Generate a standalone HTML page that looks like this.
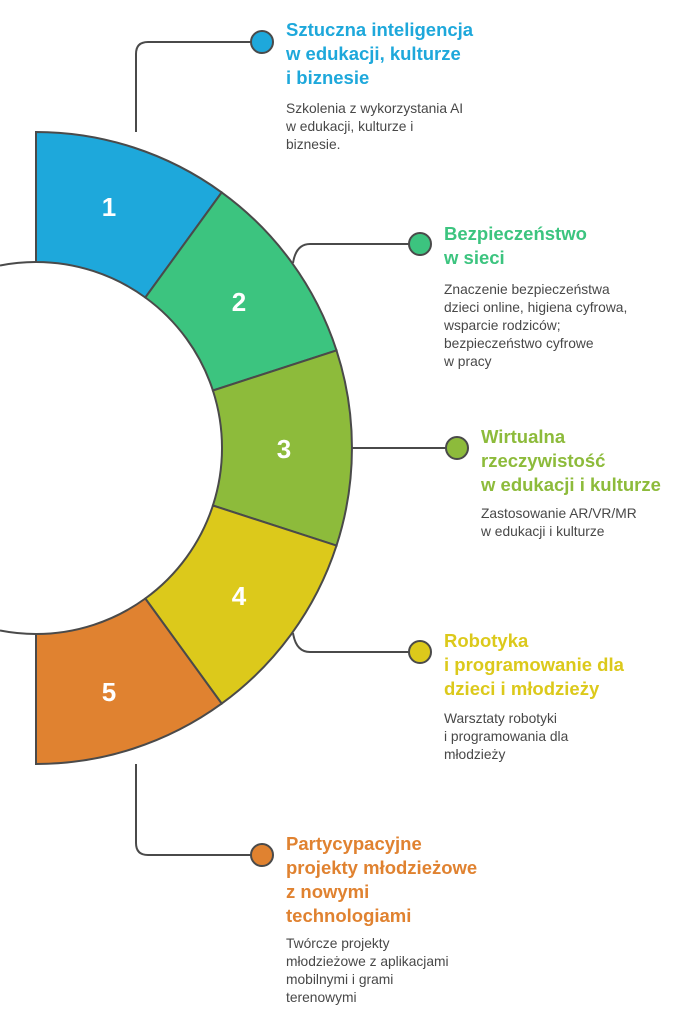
<!DOCTYPE html>
<html><head><meta charset="utf-8"><style>
body{margin:0;width:691px;height:1024px;background:#fff;position:relative;overflow:hidden;font-family:"Liberation Sans",sans-serif}
.t{position:absolute;font-weight:bold;font-size:18.5px;line-height:24px}
.d{position:absolute;font-size:13.8px;line-height:18px;color:#484848}
</style></head><body>
<svg width="691" height="1024" style="position:absolute;left:0;top:0">
<g stroke="#4a4a4a" stroke-width="2" fill="none">
<path d="M136 132 V54 Q136 42 148 42 H252"/>
<path d="M293 263 Q296 244 310 244 H410"/>
<path d="M352 448 H447"/>
<path d="M293 633 Q296 652 310 652 H410"/>
<path d="M136 764 V843 Q136 855 148 855 H252"/>
<path d="M0 265.5 A186 186 0 0 1 36 262"/>
<path d="M36 634 A186 186 0 0 1 0 630.5"/>
</g>
<g stroke="#4a4a4a" stroke-width="2">
<path fill="#1EA8DB" d="M36 132 A316 316 0 0 1 221.7 192.4 L145.3 297.5 A186 186 0 0 0 36 262 Z"/>
<path fill="#3CC47F" d="M221.7 192.4 A316 316 0 0 1 336.5 350.4 L212.9 390.5 A186 186 0 0 0 145.3 297.5 Z"/>
<path fill="#8DBB3B" d="M336.5 350.4 A316 316 0 0 1 336.5 545.6 L212.9 505.5 A186 186 0 0 0 212.9 390.5 Z"/>
<path fill="#DCC91B" d="M336.5 545.6 A316 316 0 0 1 221.7 703.6 L145.3 598.5 A186 186 0 0 0 212.9 505.5 Z"/>
<path fill="#E08230" d="M221.7 703.6 A316 316 0 0 1 36 764 L36 634 A186 186 0 0 0 145.3 598.5 Z"/>
<circle cx="262" cy="42" r="11" fill="#1EA8DB"/>
<circle cx="420" cy="244" r="11" fill="#3CC47F"/>
<circle cx="457" cy="448" r="11" fill="#8DBB3B"/>
<circle cx="420" cy="652" r="11" fill="#DCC91B"/>
<circle cx="262" cy="855" r="11" fill="#E08230"/>
</g>
<g fill="#fff" font-family="Liberation Sans" font-weight="bold" font-size="26" text-anchor="middle">
<text x="109" y="216">1</text><text x="239" y="311">2</text><text x="284" y="458">3</text><text x="239" y="605">4</text><text x="109" y="701">5</text>
</g>
</svg>
<div class="t" style="left:286px;top:18px;color:#1EA8DB">Sztuczna inteligencja<br>w edukacji, kulturze<br>i biznesie</div>
<div class="d" style="left:286px;top:100px">Szkolenia z wykorzystania AI<br>w edukacji, kulturze i<br>biznesie.</div>
<div class="t" style="left:444px;top:222px;color:#3CC47F">Bezpieczeństwo<br>w sieci</div>
<div class="d" style="left:444px;top:281px">Znaczenie bezpieczeństwa<br>dzieci online, higiena cyfrowa,<br>wsparcie rodziców;<br>bezpieczeństwo cyfrowe<br>w pracy</div>
<div class="t" style="left:481px;top:425px;color:#8DBB3B">Wirtualna<br>rzeczywistość<br>w edukacji i kulturze</div>
<div class="d" style="left:481px;top:505px">Zastosowanie AR/VR/MR<br>w edukacji i kulturze</div>
<div class="t" style="left:444px;top:629px;color:#DCC91B">Robotyka<br>i programowanie dla<br>dzieci i młodzieży</div>
<div class="d" style="left:444px;top:710px">Warsztaty robotyki<br>i programowania dla<br>młodzieży</div>
<div class="t" style="left:286px;top:832px;color:#E08230">Partycypacyjne<br>projekty młodzieżowe<br>z nowymi<br>technologiami</div>
<div class="d" style="left:286px;top:935px">Twórcze projekty<br>młodzieżowe z aplikacjami<br>mobilnymi i grami<br>terenowymi</div>
</body></html>
